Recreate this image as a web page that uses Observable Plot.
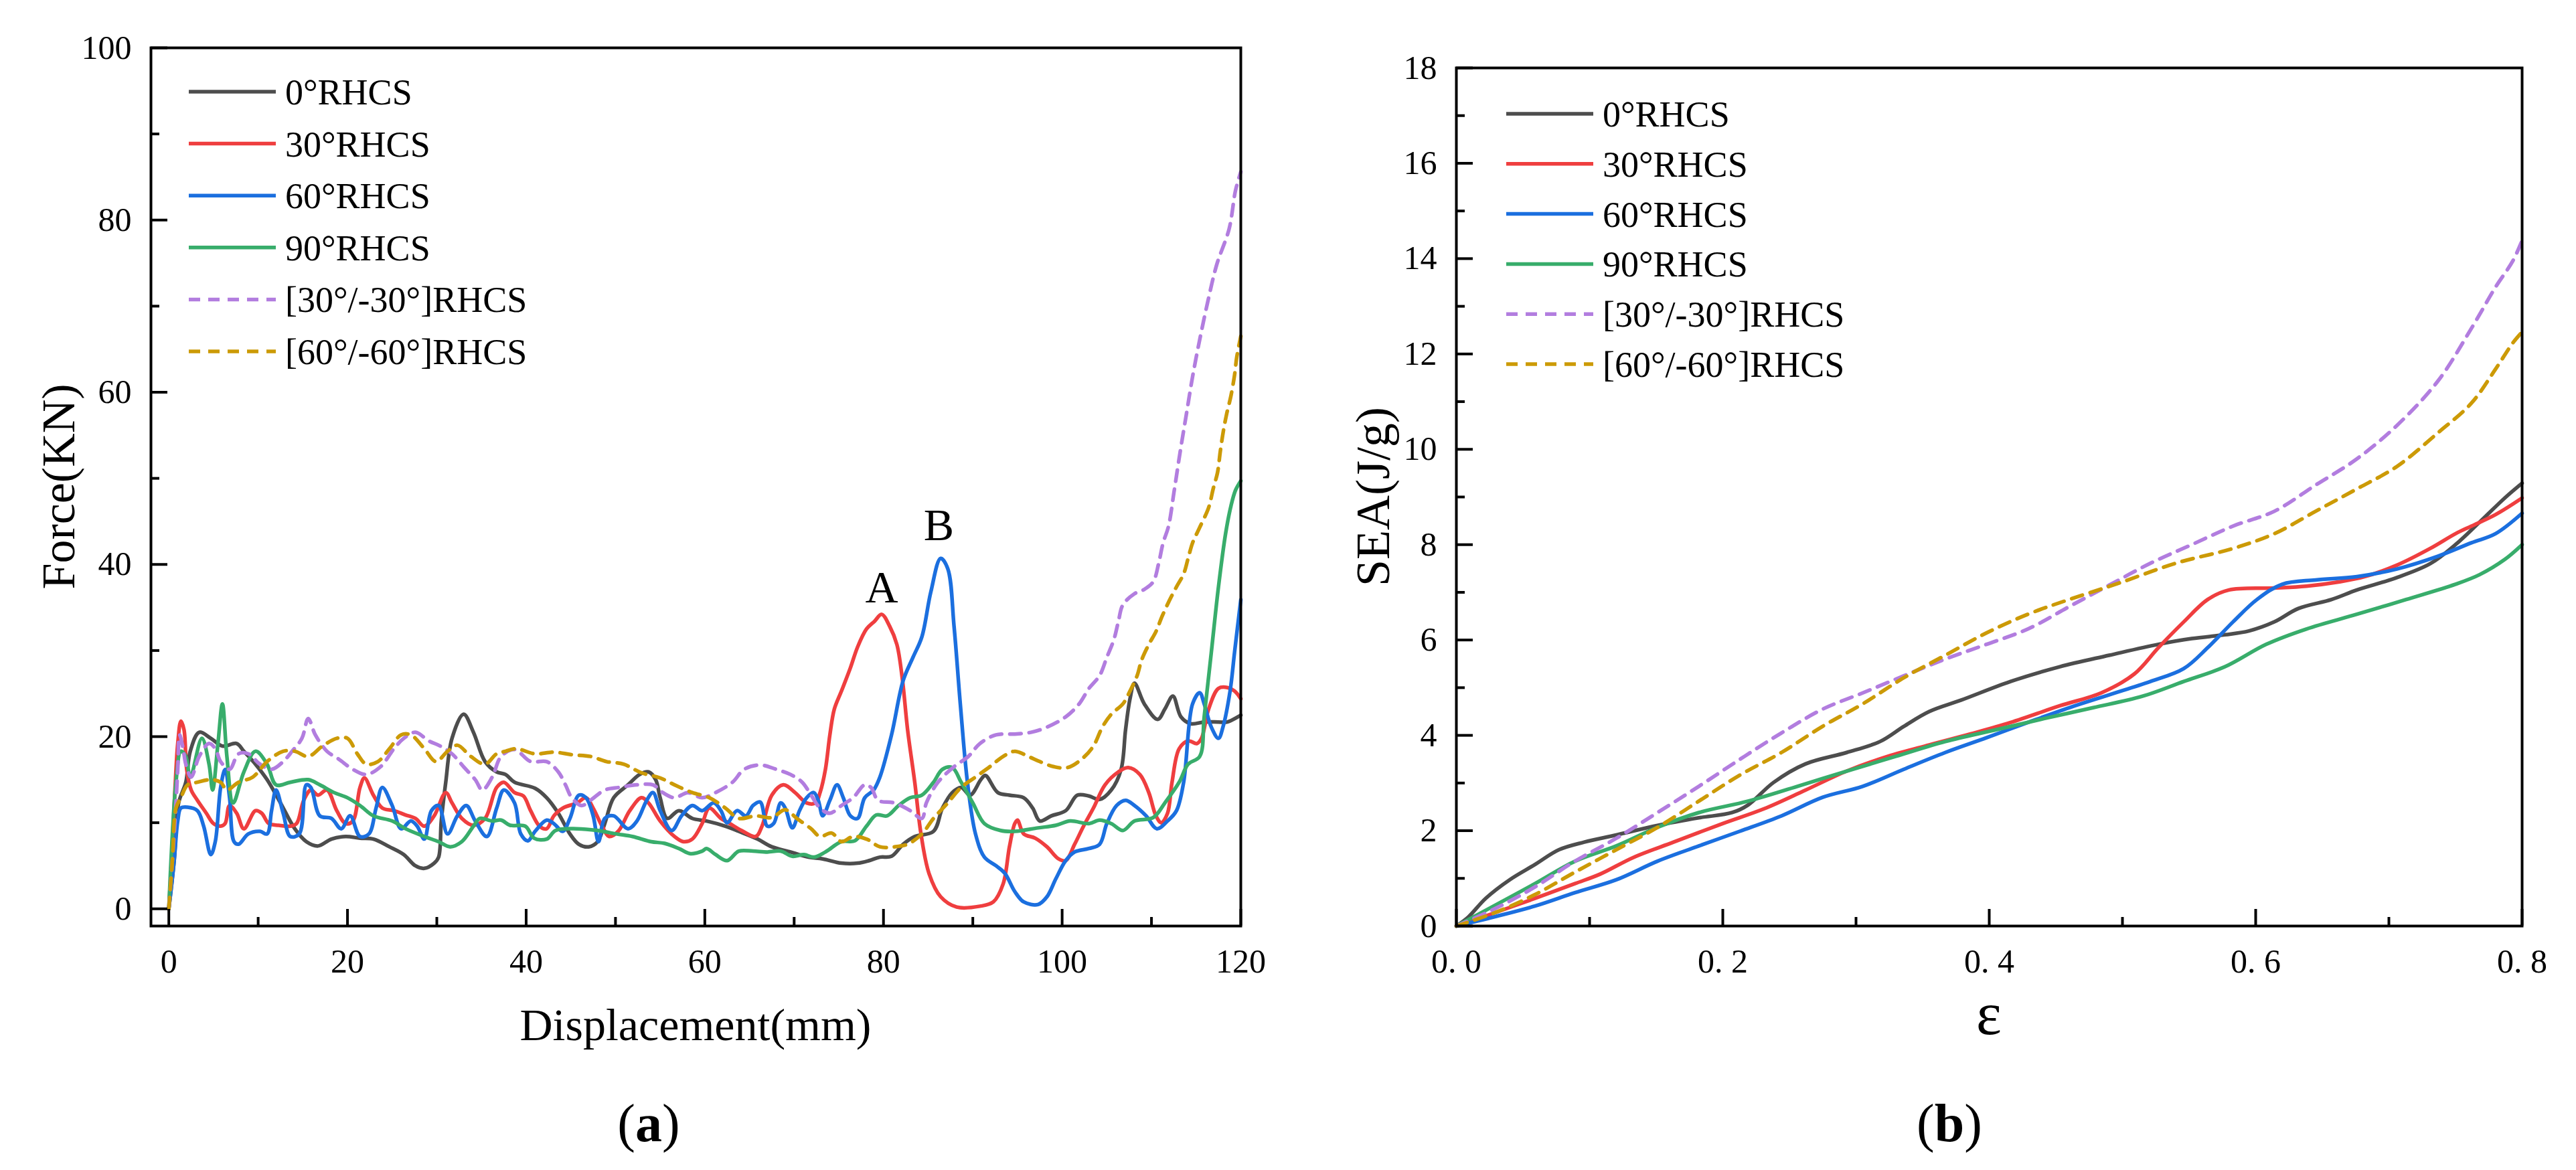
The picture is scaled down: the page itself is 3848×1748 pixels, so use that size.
<!DOCTYPE html>
<html>
<head>
<meta charset="utf-8">
<script src="https://cdn.jsdelivr.net/npm/d3@7"></script>
<script src="https://cdn.jsdelivr.net/npm/@observablehq/plot@0.6"></script>
<style>
  body { margin: 0; background: #fff; }
  #page { position: relative; width: 3848px; height: 1748px; background: #fff; font-family: 'Liberation Serif', 'Times New Roman', serif; }
  .panel { position: absolute; top: 0; width: 1924px; height: 1500px; }
  .caption { position: absolute; top: 1633px; width: 400px; height: 90px; line-height: 90px; font-size: 80px; text-align: center; color: #000; }
</style>
</head>
<body>
<div id="page">
  <div class="panel" id="panel-a" style="left:0"></div>
  <div class="panel" id="panel-b" style="left:1924px"></div>
  <div class="caption" style="left:769px">(<b>a</b>)</div>
  <div class="caption" style="left:2712px">(<b>b</b>)</div>
</div>
<script>
// Series shared by both panels
const seriesNames = ["0°RHCS", "30°RHCS", "60°RHCS", "90°RHCS", "[30°/-30°]RHCS", "[60°/-60°]RHCS"];
const seriesColors = ["#4d4d4d", "#ef3e3f", "#1b6fdf", "#38ad6b", "#b27ddf", "#cc9a06"];
const seriesDashed = [false, false, false, false, true, true];

// (a) Force (kN) vs displacement (mm), [displacement, force] pairs
const force0 = [[0,0],[0.6,5.6],[1.1,12.3],[1.9,14.7],[2.4,18.3],[3.4,20.5],[4.7,19.8],[6.0,18.9],[7.6,19.2],[8.4,18.3],[9.7,16.8],[11.0,15.0],[12.5,12.3],[14.1,9.3],[15.4,7.8],[16.7,7.3],[18.2,8.1],[19.8,8.4],[21.4,8.2],[22.9,8.1],[24.7,7.2],[26.3,6.3],[27.6,5.0],[28.6,4.7],[29.7,5.3],[30.2,6.0],[30.5,10.2],[31.0,14.7],[31.7,19.8],[33.0,22.6],[34.1,20.5],[35.4,17.1],[36.7,15.9],[37.7,15.6],[38.7,14.7],[41.0,14.0],[42.3,12.9],[43.6,11.1],[44.9,8.7],[45.9,7.5],[47.0,7.2],[48.0,7.8],[48.8,9.9],[49.8,12.9],[51.4,14.4],[52.7,15.6],[53.7,15.9],[54.5,15.0],[55.0,12.9],[55.8,10.5],[57.1,11.4],[58.6,10.5],[60.2,10.2],[62.3,9.6],[63.8,9.0],[65.9,8.1],[67.5,7.2],[69.6,6.6],[71.6,6.0],[73.2,5.8],[75.3,5.3],[77.1,5.3],[78.4,5.6],[79.6,6.0],[80.9,6.1],[82.2,7.5],[83.5,8.4],[85.6,9.0],[86.6,11.7],[87.7,13.5],[88.7,14.1],[89.7,13.2],[90.9,15.0],[91.4,15.5],[92.8,13.5],[94.1,13.2],[95.7,12.9],[96.7,11.7],[97.5,10.2],[98.8,10.8],[100.4,11.4],[101.7,13.2],[103.0,13.1],[104.2,12.7],[105.5,13.8],[106.6,16.2],[107.1,20.8],[107.6,24.4],[108.1,26.2],[109.2,23.8],[110.7,22.0],[111.5,23.2],[112.4,24.7],[113.3,22.3],[114.4,21.5],[115.9,21.7],[117.5,21.7],[118.5,21.7],[120,22.5]];
const force30 = [[0,0],[0.3,5.6],[0.7,14.1],[1.0,19.2],[1.35,21.8],[1.7,20.8],[2.0,16.2],[2.5,13.8],[3.2,12.6],[4.2,11.1],[5.0,9.9],[5.8,9.6],[6.3,9.9],[6.8,12.0],[7.6,11.1],[8.4,9.3],[9.7,11.4],[10.4,11.1],[11.2,9.9],[12.3,9.7],[13.6,9.6],[14.3,9.9],[15.1,12.6],[15.9,13.8],[16.7,13.2],[17.7,13.8],[18.8,11.4],[19.8,9.9],[20.6,10.2],[21.4,14.1],[21.9,15.2],[22.9,13.2],[23.9,11.7],[25.2,11.4],[26.5,10.9],[27.6,10.5],[28.6,9.6],[29.7,10.8],[31.0,13.5],[31.7,12.3],[32.8,10.5],[34.1,9.7],[35.4,10.5],[36.7,14.1],[37.5,14.7],[38.7,13.5],[39.7,13.1],[40.5,11.4],[41.5,9.6],[42.3,9.3],[43.1,10.8],[44.1,11.7],[45.7,12.3],[46.7,12.9],[47.5,11.7],[48.5,9.6],[49.3,8.4],[50.3,9.0],[51.6,11.4],[52.9,12.9],[53.7,12.3],[55.0,10.2],[56.6,8.4],[57.6,7.8],[58.6,8.1],[59.7,9.9],[60.5,11.7],[61.8,10.5],[62.8,9.9],[64.1,9.1],[65.7,8.4],[66.4,9.6],[67.5,13.2],[68.8,14.4],[70.1,13.5],[71.4,12.3],[72.4,12.3],[72.9,13.5],[73.5,16.2],[74.0,20.2],[74.5,23.2],[75.3,25.3],[76.3,28.0],[77.1,30.4],[78.1,32.5],[79.0,33.4],[79.8,34.2],[80.7,32.8],[81.5,30.7],[82.1,26.8],[82.7,20.8],[83.5,14.7],[84.2,8.7],[85.1,4.1],[86.4,1.4],[88.2,0.2],[90.8,0.3],[92.3,0.8],[93.4,2.9],[94.1,7.2],[94.7,9.9],[95.0,10.3],[95.7,8.7],[97.0,8.2],[98.3,7.2],[99.6,5.8],[100.4,5.6],[101.4,7.5],[102.4,9.6],[103.5,11.7],[104.8,14.4],[106.3,15.9],[107.4,16.4],[108.7,15.6],[109.7,13.5],[110.5,10.8],[111.1,10.0],[111.8,11.1],[112.3,14.7],[113.1,18.6],[114.1,19.5],[115.1,19.2],[115.6,19.8],[116.4,23.2],[117.5,25.6],[118.5,25.7],[119.3,25.3],[120,24.4]];
const force60 = [[0,0],[0.6,5.6],[1.0,10.2],[1.35,11.7],[2.1,11.8],[3.2,11.4],[3.9,9.6],[4.7,6.3],[5.2,7.8],[5.8,14.1],[6.3,16.2],[6.8,12.9],[7.3,7.8],[7.8,7.5],[8.9,8.7],[10.2,9.0],[11.0,8.7],[11.5,11.4],[12.0,13.8],[12.8,11.1],[13.6,8.4],[14.6,8.7],[15.4,14.4],[15.9,14.1],[16.9,10.8],[18.2,10.5],[19.3,9.3],[20.3,10.8],[21.4,8.4],[22.4,8.7],[23.2,11.7],[23.9,14.1],[25.0,12.0],[26.0,9.3],[27.1,10.2],[27.8,9.6],[28.6,8.1],[29.4,11.4],[30.2,12.0],[31.2,8.7],[32.3,10.8],[33.3,12.0],[34.3,10.2],[35.6,8.4],[36.7,11.7],[37.5,13.8],[38.7,12.3],[39.4,8.7],[40.2,7.9],[41.0,9.0],[42.3,10.3],[43.1,9.9],[44.1,9.0],[44.9,10.5],[45.9,13.2],[46.7,12.9],[47.5,10.8],[48.1,7.8],[48.8,10.5],[49.8,10.8],[51.4,9.3],[52.4,10.2],[53.5,12.6],[54.2,13.5],[55.0,11.4],[56.3,9.1],[57.4,10.8],[58.6,12.0],[59.7,11.4],[61.0,12.3],[61.8,11.4],[62.5,10.0],[63.6,11.4],[64.6,10.8],[65.4,12.0],[66.2,12.4],[67.0,9.6],[67.7,9.9],[68.5,12.3],[69.0,11.7],[69.8,9.4],[70.6,11.4],[71.4,12.9],[72.2,13.5],[72.7,12.6],[73.2,10.8],[74.0,12.6],[74.8,14.4],[75.5,12.9],[76.3,10.8],[77.1,10.5],[77.9,12.9],[78.9,13.8],[79.6,15.3],[80.9,20.2],[82.2,26.5],[83.3,29.2],[84.3,31.6],[85.3,36.8],[86.4,40.7],[87.2,39.5],[87.9,32.8],[88.6,23.8],[89.4,14.7],[90.3,8.7],[91.3,6.0],[92.6,5.0],[93.6,4.1],[94.7,2.0],[95.7,0.8],[97.3,0.5],[98.3,1.4],[99.3,3.5],[100.4,5.6],[101.4,6.6],[103.0,7.0],[104.2,7.5],[105.0,9.9],[106.1,12.0],[107.1,12.6],[108.1,12.0],[109.4,10.8],[110.6,9.3],[111.8,10.2],[112.8,11.4],[113.6,14.7],[114.6,23.8],[115.4,25.1],[115.9,23.8],[116.7,21.1],[117.5,19.8],[118.0,21.1],[118.8,25.3],[119.3,29.8],[120,35.9]];
const force90 = [[0,0],[0.4,8.7],[0.8,14.7],[1.35,18.3],[1.9,17.7],[2.4,15.3],[3.7,19.8],[4.5,16.8],[4.9,13.8],[5.5,19.2],[6.0,23.8],[6.5,17.7],[7.2,12.3],[8.4,15.9],[9.7,18.3],[11.0,16.8],[12.0,14.4],[13.6,14.7],[15.6,15.0],[16.9,14.4],[18.5,13.5],[20.0,12.9],[21.4,12.0],[22.9,10.8],[25.0,10.2],[26.5,9.3],[28.6,8.4],[30.2,7.8],[31.5,7.2],[32.8,7.8],[34.1,9.6],[34.8,10.5],[36.2,10.2],[37.2,10.3],[38.2,9.7],[39.9,9.6],[40.9,8.2],[42.3,8.1],[43.3,9.1],[45.7,9.3],[48.0,9.1],[50.1,8.7],[51.9,8.4],[54.0,7.8],[55.5,7.6],[57.1,7.0],[58.4,6.4],[59.7,6.7],[60.2,7.0],[61.2,6.3],[62.5,5.6],[63.8,6.7],[65.4,6.7],[67.0,6.6],[68.5,6.7],[69.8,6.1],[71.1,6.3],[72.2,6.0],[73.5,6.6],[75.3,7.8],[76.8,7.9],[78.1,9.6],[79.2,10.9],[80.4,10.8],[81.7,12.0],[83.0,12.9],[84.3,13.2],[85.6,14.7],[86.6,16.2],[87.7,16.4],[88.7,14.7],[90.0,12.3],[91.3,9.9],[93.1,9.1],[94.7,9.0],[97.3,9.4],[99.3,9.7],[100.9,10.2],[103.0,9.9],[104.2,10.3],[105.5,9.9],[106.8,9.1],[108.1,10.2],[110.2,10.6],[111.5,12.3],[113.1,14.7],[114.1,16.8],[115.4,17.7],[115.9,22.3],[116.7,29.8],[117.5,37.4],[118.3,43.6],[118.9,46.8],[119.4,48.6],[120,49.7]];
const force30n30 = [[0,0],[0.6,8.7],[1.0,16.2],[1.2,20.2],[1.6,18.6],[1.9,16.8],[2.5,15.3],[3.4,17.7],[4.5,19.2],[5.2,18.6],[5.8,17.1],[6.8,16.2],[7.8,18.0],[8.9,18.0],[10.2,16.8],[11.5,16.2],[12.8,17.1],[13.8,18.3],[14.9,19.8],[15.6,22.1],[16.4,20.2],[17.7,18.3],[19.0,17.4],[20.6,16.2],[22.1,15.6],[23.7,16.5],[25.2,18.6],[26.3,19.8],[27.6,20.5],[29.1,19.5],[30.4,18.9],[31.7,18.0],[33.0,16.5],[34.3,15.0],[35.1,13.8],[36.2,15.3],[37.2,17.7],[38.7,18.5],[40.5,17.1],[42.3,17.1],[43.6,15.9],[44.4,14.4],[45.1,12.9],[46.2,12.0],[47.2,12.6],[48.8,13.8],[50.4,14.1],[52.4,14.4],[54.2,14.4],[55.3,13.5],[56.6,12.9],[58.1,13.5],[59.7,12.9],[61.2,13.5],[63.1,14.7],[64.4,16.2],[66.2,16.7],[68.0,16.2],[69.6,15.6],[70.9,14.7],[71.9,13.2],[72.9,11.7],[74.0,11.1],[75.3,12.0],[76.6,12.9],[77.9,14.4],[78.6,14.1],[79.4,12.6],[81.2,12.3],[83.0,11.4],[84.3,10.5],[84.8,12.3],[86.1,14.7],[87.9,16.5],[89.5,17.7],[90.8,19.2],[92.6,20.2],[94.7,20.3],[96.5,20.5],[98.3,21.1],[100.4,22.3],[101.9,23.8],[103.0,25.6],[104.2,27.1],[105.0,29.2],[105.8,31.3],[106.3,33.4],[106.8,35.3],[108.1,36.6],[109.2,37.1],[110.2,38.0],[110.8,40.1],[111.3,42.5],[111.9,44.4],[112.55,48.6],[113.2,53.0],[113.9,57.4],[114.6,61.8],[115.4,66.1],[116.3,70.5],[117.3,74.8],[118.7,79.0],[119.4,83.4],[120,85.6]];
const force60n60 = [[0,0],[0.4,5.6],[0.8,11.7],[1.35,12.9],[2.1,14.4],[3.2,14.7],[4.7,15.0],[5.8,14.7],[6.5,13.8],[7.8,14.7],[9.4,15.3],[11.0,17.1],[12.8,18.3],[14.1,18.3],[15.6,17.7],[17.2,18.9],[18.8,19.8],[20.0,19.8],[21.1,18.0],[22.1,16.8],[23.4,17.1],[24.7,18.6],[26.0,20.2],[27.1,20.2],[28.6,18.6],[29.9,17.1],[31.2,18.3],[32.3,19.0],[33.8,17.7],[35.4,16.8],[36.7,18.0],[37.7,18.3],[38.9,18.6],[41.0,18.0],[43.1,18.2],[45.1,17.9],[47.2,17.7],[49.0,17.1],[50.9,16.8],[52.9,15.8],[55.0,15.2],[56.8,14.3],[58.6,13.5],[60.5,12.9],[62.3,11.7],[63.8,10.5],[65.7,10.8],[67.5,10.6],[69.0,11.5],[70.3,10.5],[71.9,9.3],[72.9,8.4],[74.2,8.8],[75.3,7.8],[76.6,8.4],[78.1,8.1],[79.6,7.2],[81.2,7.2],[82.7,7.5],[84.3,8.7],[85.6,10.5],[87.2,12.3],[88.7,14.1],[90.3,15.3],[91.9,16.5],[93.4,17.7],[94.7,18.3],[96.2,17.7],[97.5,17.1],[99.1,16.5],[100.6,16.4],[102.2,17.4],[103.5,18.9],[104.5,21.1],[105.5,22.6],[106.8,23.8],[107.6,25.3],[108.4,27.1],[108.9,28.9],[109.7,30.7],[110.5,32.2],[111.2,34.0],[112.0,35.8],[112.8,37.4],[113.6,38.9],[114.1,40.7],[114.6,42.5],[115.4,44.3],[116.4,46.6],[116.9,48.75],[117.4,50.7],[117.7,53.1],[118.05,55.5],[118.4,57.4],[118.9,59.6],[119.3,62.0],[119.55,64.1],[120,66.5]];

// (b) SEA (J/g) vs strain, [strain, SEA] pairs
const sea0 = [[0,0],[0.009,0.19],[0.022,0.58],[0.04,0.97],[0.059,1.29],[0.077,1.6],[0.096,1.76],[0.12,1.91],[0.151,2.11],[0.182,2.27],[0.207,2.38],[0.219,2.54],[0.238,3.01],[0.262,3.4],[0.293,3.64],[0.318,3.87],[0.336,4.19],[0.355,4.5],[0.379,4.74],[0.416,5.13],[0.453,5.44],[0.49,5.68],[0.527,5.91],[0.552,6.03],[0.577,6.11],[0.595,6.19],[0.614,6.38],[0.632,6.66],[0.657,6.85],[0.676,7.05],[0.705,7.3],[0.731,7.6],[0.75,8.0],[0.768,8.47],[0.787,8.98],[0.8,9.29]];
const sea30 = [[0,0],[0.028,0.27],[0.059,0.58],[0.089,0.89],[0.108,1.09],[0.133,1.44],[0.163,1.76],[0.2,2.15],[0.231,2.46],[0.262,2.85],[0.293,3.25],[0.324,3.56],[0.355,3.8],[0.386,4.03],[0.416,4.27],[0.453,4.62],[0.484,4.89],[0.509,5.29],[0.527,5.84],[0.546,6.38],[0.564,6.85],[0.58,7.05],[0.614,7.09],[0.638,7.13],[0.663,7.22],[0.682,7.33],[0.706,7.57],[0.731,7.92],[0.75,8.23],[0.762,8.39],[0.78,8.63],[0.8,8.98]];
const sea60 = [[0,0],[0.028,0.19],[0.059,0.42],[0.089,0.7],[0.12,0.97],[0.151,1.36],[0.182,1.68],[0.213,1.99],[0.244,2.31],[0.275,2.7],[0.305,2.93],[0.336,3.29],[0.367,3.64],[0.398,3.95],[0.429,4.27],[0.46,4.58],[0.49,4.85],[0.521,5.13],[0.546,5.4],[0.564,5.84],[0.583,6.38],[0.601,6.85],[0.62,7.17],[0.645,7.26],[0.676,7.33],[0.706,7.49],[0.737,7.76],[0.762,8.04],[0.78,8.23],[0.8,8.66]];
const sea90 = [[0,0],[0.028,0.42],[0.059,0.89],[0.089,1.36],[0.12,1.68],[0.151,2.07],[0.182,2.38],[0.219,2.62],[0.256,2.93],[0.293,3.25],[0.33,3.56],[0.367,3.87],[0.404,4.11],[0.441,4.35],[0.478,4.58],[0.515,4.82],[0.546,5.13],[0.577,5.44],[0.608,5.91],[0.638,6.23],[0.676,6.54],[0.713,6.85],[0.75,7.17],[0.768,7.37],[0.787,7.69],[0.8,8.0]];
const sea30n30 = [[0,0],[0.028,0.35],[0.059,0.82],[0.089,1.36],[0.12,1.84],[0.151,2.38],[0.182,2.93],[0.213,3.5],[0.244,4.05],[0.275,4.55],[0.305,4.89],[0.336,5.25],[0.367,5.6],[0.398,5.91],[0.429,6.23],[0.46,6.7],[0.49,7.15],[0.521,7.61],[0.552,8.0],[0.583,8.39],[0.614,8.7],[0.645,9.25],[0.676,9.8],[0.706,10.5],[0.737,11.44],[0.762,12.54],[0.78,13.4],[0.793,13.95],[0.8,14.38]];
const sea60n60 = [[0,0],[0.028,0.27],[0.059,0.66],[0.089,1.13],[0.12,1.6],[0.151,2.07],[0.182,2.62],[0.213,3.17],[0.244,3.64],[0.275,4.19],[0.305,4.66],[0.336,5.21],[0.367,5.68],[0.398,6.15],[0.429,6.54],[0.46,6.85],[0.497,7.19],[0.54,7.61],[0.583,7.92],[0.614,8.23],[0.645,8.7],[0.676,9.17],[0.706,9.64],[0.737,10.35],[0.762,10.97],[0.78,11.68],[0.793,12.23],[0.8,12.46]];

// Peak annotations on panel (a)
const peakLabels = ["A", "B"];
const peakX = [79.8, 86.2];
const peakY = [35.6, 42.8];

// Axis ticks
const forceXMajor = [0, 20, 40, 60, 80, 100, 120];
const forceXMinor = [10, 30, 50, 70, 90, 110];
const forceYMajor = [0, 20, 40, 60, 80, 100];
const forceYMinor = [10, 30, 50, 70, 90];
const seaXMajor = [0, 0.2, 0.4, 0.6, 0.8];
const seaXMinor = [0.1, 0.3, 0.5, 0.7];
const seaYMajor = [0, 2, 4, 6, 8, 10, 12, 14, 16, 18];
const seaYMinor = [1, 3, 5, 7, 9, 11, 13, 15, 17];

const serif = "'Liberation Serif', 'Times New Roman', serif";
const lineWidth = 5.5;

function seriesMarks(allSeries) {
    return allSeries.map((pts, i) => Plot.line(pts, {
        x: (d) => d[0],
        y: (d) => d[1],
        stroke: seriesColors[i],
        strokeWidth: lineWidth,
        strokeDasharray: seriesDashed[i] ? "17,12" : undefined,
        curve: "catmull-rom",
    }));
}

// Inward ticks (major + minor) and tick labels outside the frame
function axisMarks(xMajor, xMinor, yMajor, yMinor, xFormat) {
    const blank = () => "";
    return [
        Plot.axisX(xMajor, {tickSize: -25, strokeWidth: 4, tickFormat: blank, label: null}),
        Plot.axisX(xMinor, {tickSize: -13, strokeWidth: 4, tickFormat: blank, label: null}),
        Plot.axisY(yMajor, {tickSize: -25, strokeWidth: 4, tickFormat: blank, label: null}),
        Plot.axisY(yMinor, {tickSize: -13, strokeWidth: 4, tickFormat: blank, label: null}),
        Plot.axisX(xMajor, {tickSize: 0, tickPadding: 34, fontSize: 50, tickFormat: xFormat, label: null}),
        Plot.axisY(yMajor, {tickSize: 0, tickPadding: 29, fontSize: 50, tickFormat: (d) => String(d), label: null}),
        Plot.frame({stroke: "black", strokeWidth: 4}),
    ];
}

function addLegend(svg, x0, y0, step) {
    const g = d3.select(svg).append("g")
        .attr("font-family", serif)
        .attr("text-anchor", "start");
    seriesNames.forEach((name, i) => {
        const y = y0 + i * step;
        g.append("line")
            .attr("x1", x0).attr("x2", x0 + 130)
            .attr("y1", y).attr("y2", y)
            .attr("stroke", seriesColors[i])
            .attr("stroke-width", lineWidth)
            .attr("stroke-dasharray", seriesDashed[i] ? "17,12" : null);
        g.append("text")
            .attr("x", x0 + 144).attr("y", y).attr("dy", "0.35em")
            .attr("font-size", 54).attr("fill", "black")
            .text(name);
    });
}

// Axis titles: x title centred under the frame, y title rotated left of it
function addTitles(svg, m, xTitle, xSize, xBaseline, yTitle, ySize, yCenterX) {
    const g = d3.select(svg).append("g")
        .attr("font-family", serif)
        .attr("text-anchor", "middle")
        .attr("fill", "black");
    const cx = (m.left + m.right) / 2;
    const cy = (m.top + m.bottom) / 2;
    g.append("text").attr("x", cx).attr("y", xBaseline).attr("font-size", xSize).text(xTitle);
    g.append("text")
        .attr("transform", `translate(${yCenterX},${cy}) rotate(-90)`)
        .attr("dy", "0.35em")
        .attr("font-size", ySize)
        .text(yTitle);
}

// Panel (a): force-displacement
const plotA = Plot.plot({
    width: 1924,
    height: 1500,
    marginLeft: 225,
    marginRight: 71,
    marginTop: 71,
    marginBottom: 117,
    x: {domain: [-2, 120]},
    y: {domain: [-2, 100]},
    style: {fontFamily: serif, color: "black", background: "white", overflow: "visible"},
    marks: [
        ...seriesMarks([force0, force30, force60, force90, force30n30, force60n60]),
        ...axisMarks(forceXMajor, forceXMinor, forceYMajor, forceYMinor, (d) => String(d)),
        Plot.text(peakLabels, {x: (d, i) => peakX[i], y: (d, i) => peakY[i], text: (d) => d, fontSize: 68, lineAnchor: "bottom"}),
    ],
});
addLegend(plotA, 282, 137, 77.6);
addTitles(plotA, {left: 225, right: 1853, top: 71, bottom: 1383}, "Displacement(mm)", 68, 1554, "Force(KN)", 70, 86);
document.getElementById("panel-a").appendChild(plotA);

// Panel (b): SEA-strain
const plotB = Plot.plot({
    width: 1924,
    height: 1500,
    marginLeft: 251,
    marginRight: 81,
    marginTop: 101,
    marginBottom: 117,
    x: {domain: [0, 0.8]},
    y: {domain: [0, 18]},
    style: {fontFamily: serif, color: "black", background: "white", overflow: "visible"},
    marks: [
        ...seriesMarks([sea0, sea30, sea60, sea90, sea30n30, sea60n60]),
        ...axisMarks(seaXMajor, seaXMinor, seaYMajor, seaYMinor, (d) => d.toFixed(1).replace(".", ". ")),
    ],
});
addLegend(plotB, 326, 170, 74.8);
addTitles(plotB, {left: 251, right: 1843, top: 101, bottom: 1383}, "ε", 90, 1545, "SEA(J/g)", 72, 126);
document.getElementById("panel-b").appendChild(plotB);
</script>
</body>
</html>
